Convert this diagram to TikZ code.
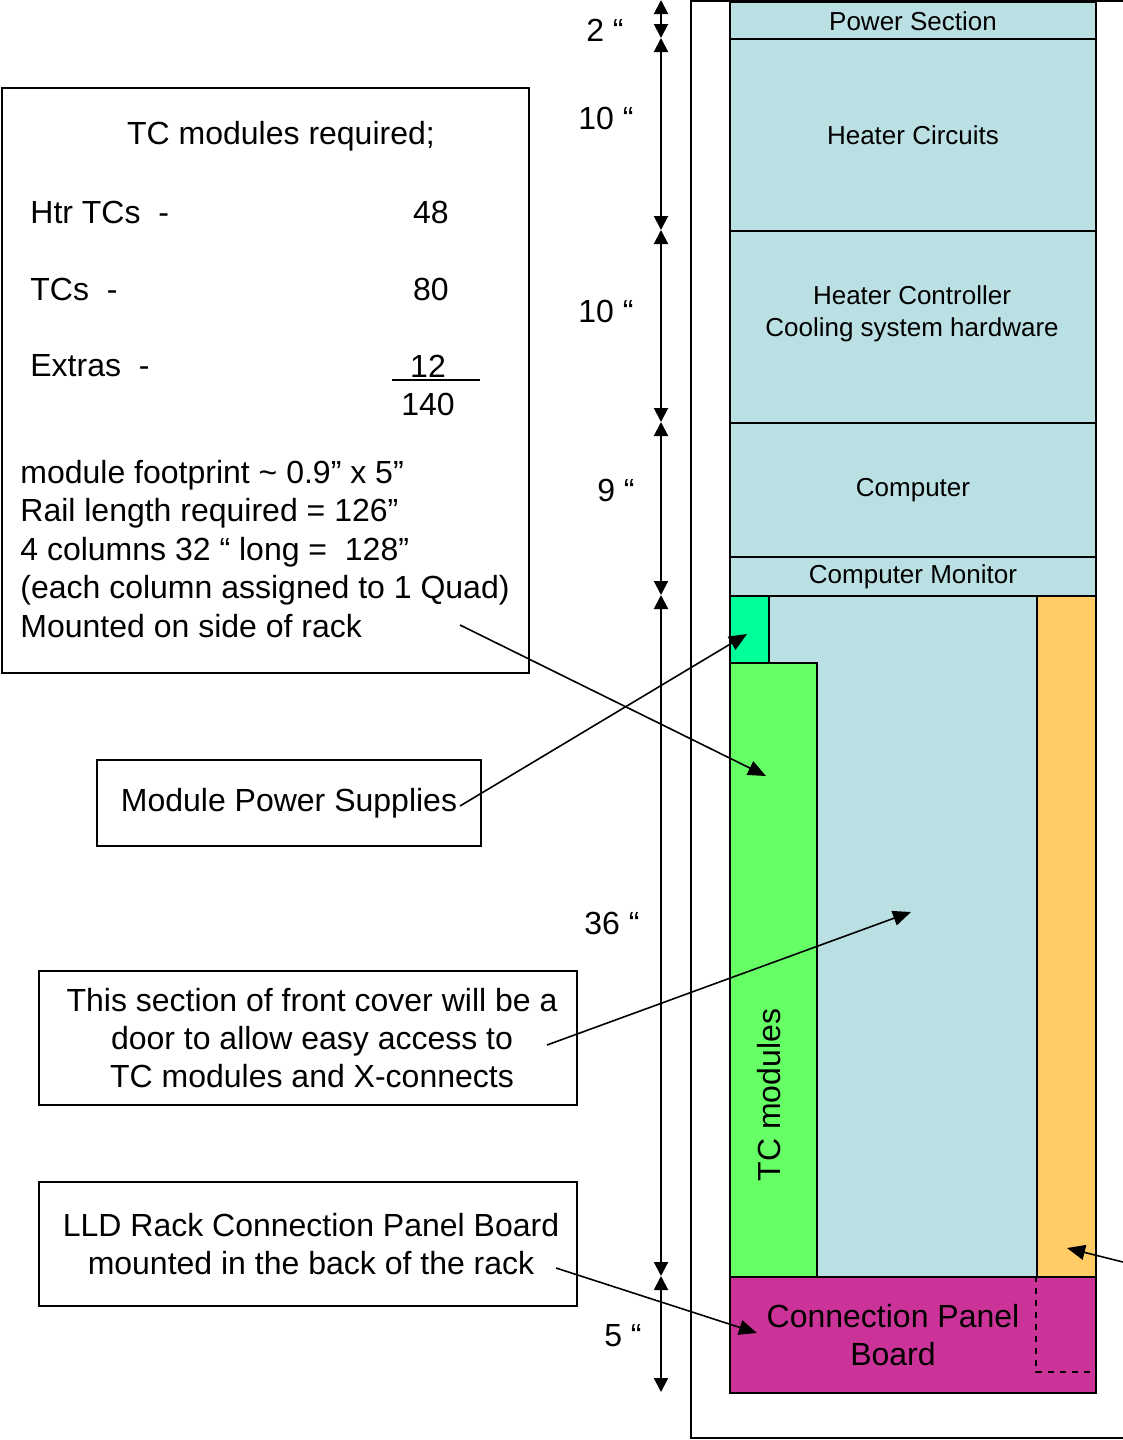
\documentclass[tikz,border=0pt]{standalone}
\usepackage{fontspec}
\setmainfont{Liberation Sans}
\usetikzlibrary{arrows.meta}
\definecolor{rackblue}{RGB}{187,224,227}
\definecolor{tcgreen}{RGB}{102,255,102}
\definecolor{psgreen}{RGB}{0,255,153}
\definecolor{xorange}{RGB}{255,204,102}
\definecolor{cpmag}{RGB}{204,51,153}
\tikzset{
  sect/.style={draw, line width=1pt, fill=rackblue, anchor=north west, minimum width=183pt,
    inner sep=0pt, align=center, font=\fontsize{13}{16}\selectfont},
  txtbox/.style={draw, line width=1pt, anchor=north west, inner sep=0pt},
  big/.style={font=\fontsize{16}{19.2}\selectfont},
  dimarr/.style={{Triangle[length=7pt,width=7pt]}-{Triangle[length=7pt,width=7pt]}, line width=1pt},
  callout/.style={-{Triangle[length=9pt,width=7.5pt]}, line width=0.8pt}
}

\begin{document}
\begin{tikzpicture}[x=0.5pt, y=-0.5pt]
\useasboundingbox (0,0) rectangle (1123,1440);
% rack outline
\draw[line width=1pt] (1135,1) -- (691,1) -- (691,1438) -- (1135,1438);

% sections of the rack
\node[sect, minimum height=19pt] (power) at (729,1) {Power Section};
\node[sect, minimum height=96pt] (heater) at (729,38) {Heater Circuits};
\node[sect, minimum height=96pt] (ctrl) at (729,230) {};
\node[font=\fontsize{13}{16}\selectfont, align=center] (ctrltxt) at (912,314)
  {Heater Controller\\Cooling system hardware};
\node[sect, minimum height=67pt] (comp) at (729,422) {Computer};
\node[sect, minimum height=19.5pt] (monitor) at (729,556) {Computer Monitor};
\node[sect, minimum height=340.5pt] (door) at (729,595) {};
\node[sect, fill=psgreen, minimum width=19.5pt, minimum height=33.5pt] (psu) at (729,595) {};
\node[sect, fill=tcgreen, minimum width=43.5pt, minimum height=307pt] (tcmod) at (729,662) {};
\node[sect, fill=xorange, minimum width=29.5pt, minimum height=340.5pt] (xconn) at (1036,595) {};
\node[sect, fill=cpmag, minimum height=58pt] (cpb) at (729,1276) {};
\draw[dashed, line width=0.8pt] (1036,1276) -- (1036,1372) -- (1095,1372);
\node[big, align=center] (cpbtxt) at (893,1335) {Connection Panel\\Board};
\node[big, rotate=90] (tctxt) at (769,1095) {TC modules};

% dimensions
\foreach \n/\y in {0/0,1/38,2/230,3/422,4/595,5/1276,6/1392}
  \coordinate (d\n) at (661,\y);
\foreach \a/\b in {0/1,1/2,2/3,3/4,4/5,5/6}
  \draw[dimarr] (d\a) -- (d\b);
\node[big] (dim1) at (605,30) {2 “};
\node[big] (dim2) at (606,118) {10 “};
\node[big] (dim3) at (606,311) {10 “};
\node[big] (dim4) at (616,490) {9 “};
\node[big] (dim5) at (612,923) {36 “};
\node[big] (dim6) at (623,1336) {5 “};

% TC module count
\node[txtbox, minimum width=263.5pt, minimum height=292.5pt] (req) at (1,87) {};
\node[big] (reqtitle) at (281,136) {TC modules required;};
\node[big, anchor=west, inner sep=0pt] (htr) at (30,212) {Htr TCs \ -};
\node[big] (htrn) at (431,212) {48};
\node[big, anchor=west, inner sep=0pt] (tcs) at (30,289) {TCs \ -};
\node[big] (tcsn) at (431,289) {80};
\node[big, anchor=west, inner sep=0pt] (extra) at (30,366) {Extras \ -};
\node[big] (extran) at (428,366) {12};
\draw[line width=1pt] (392,380) -- (480,380);
\node[big] (total) at (428,404) {140};
\node[big, align=left, anchor=north west, inner sep=0pt] (notes) at (20,460)
  {module footprint \textasciitilde\ 0.9” x 5”\\
   Rail length required = 126”\\
   4 columns 32 “ long = \ 128”\\
   (each column assigned to 1 Quad)\\
   Mounted on side of rack};

% callout boxes
\node[txtbox, big, minimum width=192pt, minimum height=43pt] (mps) at (96,759) {Module Power Supplies\hspace{12pt}};
\node[txtbox, big, minimum width=269pt, minimum height=67pt, align=center] (doorbox) at (38,970)
  {\hspace{4pt}This section of front cover will be a\\\hspace{4pt}door to allow easy access to\\\hspace{4pt}TC modules and X-connects};
\node[txtbox, big, minimum width=269pt, minimum height=62pt, align=center] (lld) at (38,1181)
  {\hspace{3pt}LLD Rack Connection Panel Board\\\hspace{3pt}mounted in the back of the rack};

% callout arrows
\coordinate (s1) at (460,625);  \coordinate (t1) at (766,776);
\coordinate (s2) at (460,806);  \coordinate (t2) at (747,634);
\coordinate (s3) at (547,1045); \coordinate (t3) at (911,912);
\coordinate (s4) at (556,1268); \coordinate (t4) at (757,1333);
\coordinate (s5) at (1135,1265); \coordinate (t5) at (1067,1248);
\foreach \i in {1,...,5}
  \draw[callout] (s\i) -- (t\i);
\end{tikzpicture}
\end{document}
